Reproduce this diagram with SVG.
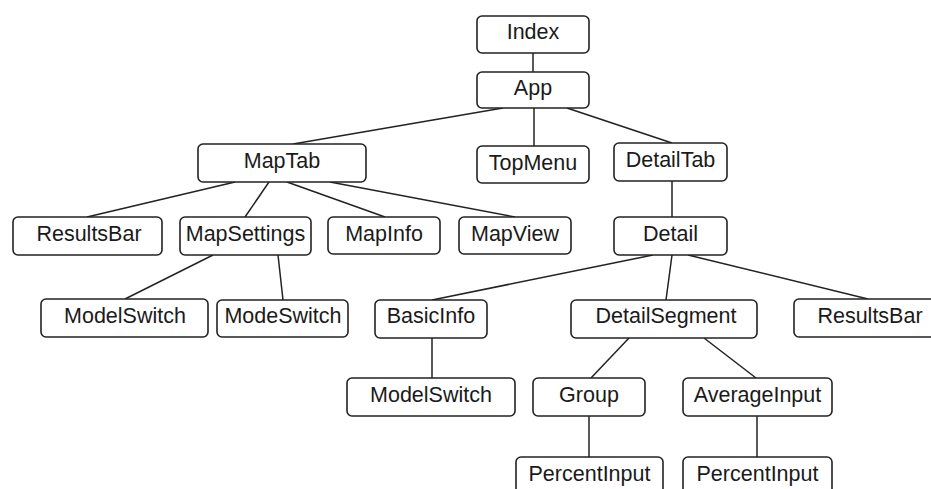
<svg xmlns="http://www.w3.org/2000/svg" width="931" height="489" viewBox="0 0 931 489">
<style>
.n rect{fill:#fff;stroke:#222;stroke-width:1.6}
.n text{font-family:"Liberation Sans",Arial,sans-serif;font-size:21.5px;fill:#1a1a1a;text-anchor:middle}
#edges line{stroke:#222;stroke-width:1.5}
</style>
<rect width="931" height="489" fill="#fff"/>
<g id="edges">
<line x1="533" y1="53" x2="533" y2="72"/>
<line x1="503" y1="108" x2="293" y2="144"/>
<line x1="534" y1="108" x2="534" y2="146"/>
<line x1="567" y1="108" x2="672" y2="143"/>
<line x1="235" y1="182" x2="87" y2="217"/>
<line x1="269" y1="182" x2="245" y2="217"/>
<line x1="287" y1="182" x2="385" y2="217"/>
<line x1="330" y1="182" x2="515" y2="217"/>
<line x1="213" y1="255" x2="125" y2="299"/>
<line x1="278" y1="255" x2="283" y2="300"/>
<line x1="672" y1="181" x2="672" y2="217"/>
<line x1="653" y1="255" x2="432" y2="300"/>
<line x1="672" y1="255" x2="666" y2="300"/>
<line x1="688" y1="255" x2="868" y2="299"/>
<line x1="432" y1="338" x2="432" y2="378"/>
<line x1="629" y1="338" x2="591" y2="378"/>
<line x1="704" y1="338" x2="756" y2="378"/>
<line x1="589" y1="416" x2="589" y2="457"/>
<line x1="757" y1="416" x2="757" y2="457"/>
</g>
<g id="index" class="n"><rect x="477" y="16" width="112" height="37" rx="5"/><text x="533" y="39">Index</text></g>
<g id="app" class="n"><rect x="477" y="72" width="112" height="36" rx="5"/><text x="533" y="95">App</text></g>
<g id="maptab" class="n"><rect x="198" y="144" width="168" height="38" rx="5"/><text x="282" y="168">MapTab</text></g>
<g id="topmenu" class="n"><rect x="477" y="146" width="112" height="37" rx="5"/><text x="533" y="170">TopMenu</text></g>
<g id="detailtab" class="n"><rect x="614" y="143" width="113" height="38" rx="5"/><text x="670.5" y="167">DetailTab</text></g>
<g id="resultsbar1" class="n"><rect x="13" y="217" width="149" height="38" rx="5"/><text x="89" y="241">ResultsBar</text></g>
<g id="mapsettings" class="n"><rect x="180" y="217" width="131" height="38" rx="5"/><text x="245.5" y="241">MapSettings</text></g>
<g id="mapinfo" class="n"><rect x="328" y="217" width="112" height="37" rx="5"/><text x="384" y="241">MapInfo</text></g>
<g id="mapview" class="n"><rect x="459" y="217" width="112" height="37" rx="5"/><text x="515" y="241">MapView</text></g>
<g id="detail" class="n"><rect x="614" y="217" width="113" height="38" rx="5"/><text x="670.5" y="241">Detail</text></g>
<g id="modelswitch1" class="n"><rect x="41" y="299" width="167" height="38" rx="5"/><text x="125" y="323">ModelSwitch</text></g>
<g id="modeswitch" class="n"><rect x="217" y="300" width="131" height="37" rx="5"/><text x="283" y="323">ModeSwitch</text></g>
<g id="basicinfo" class="n"><rect x="375" y="300" width="112" height="38" rx="5"/><text x="431" y="323">BasicInfo</text></g>
<g id="detailsegment" class="n"><rect x="571" y="300" width="186" height="38" rx="5"/><text x="666" y="323">DetailSegment</text></g>
<g id="resultsbar2" class="n"><rect x="794" y="299" width="149" height="38" rx="5"/><text x="870" y="323">ResultsBar</text></g>
<g id="modelswitch2" class="n"><rect x="347" y="378" width="168" height="38" rx="5"/><text x="431" y="402">ModelSwitch</text></g>
<g id="group" class="n"><rect x="533" y="378" width="112" height="38" rx="5"/><text x="589" y="402">Group</text></g>
<g id="averageinput" class="n"><rect x="683" y="378" width="149" height="38" rx="5"/><text x="757.5" y="402">AverageInput</text></g>
<g id="percentinput1" class="n"><rect x="516" y="457" width="147" height="38" rx="5"/><text x="589.5" y="481">PercentInput</text></g>
<g id="percentinput2" class="n"><rect x="683" y="457" width="149" height="38" rx="5"/><text x="757.5" y="481">PercentInput</text></g>
</svg>
